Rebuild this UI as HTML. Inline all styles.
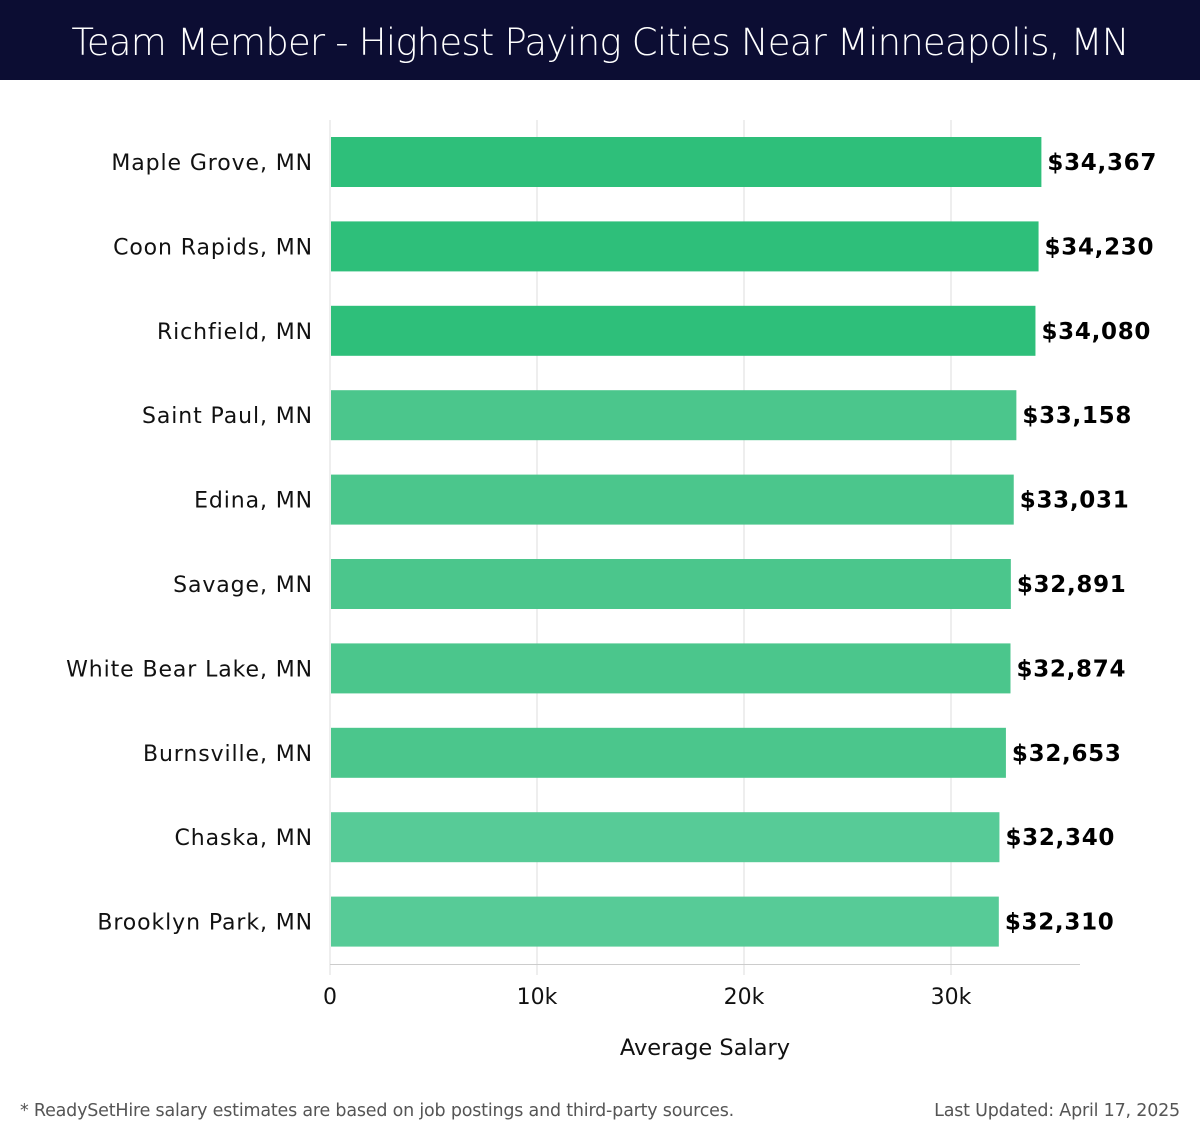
<!DOCTYPE html>
<html><head><meta charset="utf-8"><style>
body{margin:0;width:1200px;height:1140px;background:#fff;font-family:"DejaVu Sans","Liberation Sans",sans-serif;overflow:hidden}
#hdr{position:absolute;left:0;top:0;width:1200px;height:80px;background:#0c0d33;color:#fff;font-size:37px;text-align:center;line-height:86px;font-family:"DejaVu Sans","Liberation Sans",sans-serif;font-weight:300;letter-spacing:-0.8px}
.foot{position:absolute;top:1101px;font-size:17.5px;color:#555;letter-spacing:-0.2px}
</style></head><body>
<div id="hdr">Team Member - Highest Paying Cities Near Minneapolis, MN</div>
<svg id="chart" width="1200" height="1140" style="position:absolute;left:0;top:0"></svg>
<div class="foot" style="left:20px">* ReadySetHire salary estimates are based on job postings and third-party sources.</div>
<div class="foot" style="right:20px">Last Updated: April 17, 2025</div>
<script>
const cities=["Maple Grove, MN","Coon Rapids, MN","Richfield, MN","Saint Paul, MN","Edina, MN","Savage, MN","White Bear Lake, MN","Burnsville, MN","Chaska, MN","Brooklyn Park, MN"];
const salaries=[34367,34230,34080,33158,33031,32891,32874,32653,32340,32310];
const ticks=[0,10000,20000,30000];
const tickLabels=["0","10k","20k","30k"];
const svg=document.getElementById('chart');
const NS='http://www.w3.org/2000/svg';
const x0=330,pxPerUnit=20.7/1000,top0=137,pitch=84.4,barH=50;
const xs=v=>x0+v*pxPerUnit;
const ys=i=>top0+i*pitch;
function mk(t,a){const e=document.createElementNS(NS,t);for(const k in a)e.setAttribute(k,a[k]);svg.appendChild(e);return e;}
ticks.forEach((t,i)=>{
  const g=mk('line',{x1:xs(t),x2:xs(t),y1:120,y2:975,stroke:'#ddd','stroke-width':1});
  
  
  const l=mk('text',{x:xs(t),y:1004,'text-anchor':'middle','font-size':22,fill:'#111'});
  l.textContent=tickLabels[i];
  
  
});
const ax=mk('line',{x1:x0,x2:1080,y1:964.5,y2:964.5,stroke:'#ccc','stroke-width':1});


const at=mk('text',{x:705,y:1055,'text-anchor':'middle','font-size':22.5,fill:'#111'});
at.textContent='Average Salary';


cities.forEach((c,i)=>{
  const col=i<3?'#2ebf7a':(i<8?'#4bc68c':'#57cb97');
  const r=mk('rect',{x:x0+1,y:ys(i),width:xs(salaries[i])-x0-1,height:barH,fill:col});
  
  
  const l=mk('text',{x:313,y:ys(i)+33,'text-anchor':'end','font-size':22,fill:'#111','letter-spacing':'0.9'});
  l.textContent=c;
  
  
  const v=mk('text',{x:xs(salaries[i])+6,y:ys(i)+33,'font-size':23,'font-weight':'bold',fill:'#000','letter-spacing':'0.7'});
  v.textContent='$'+salaries[i].toLocaleString('en-US');
  
  
});
</script>
</body></html>
